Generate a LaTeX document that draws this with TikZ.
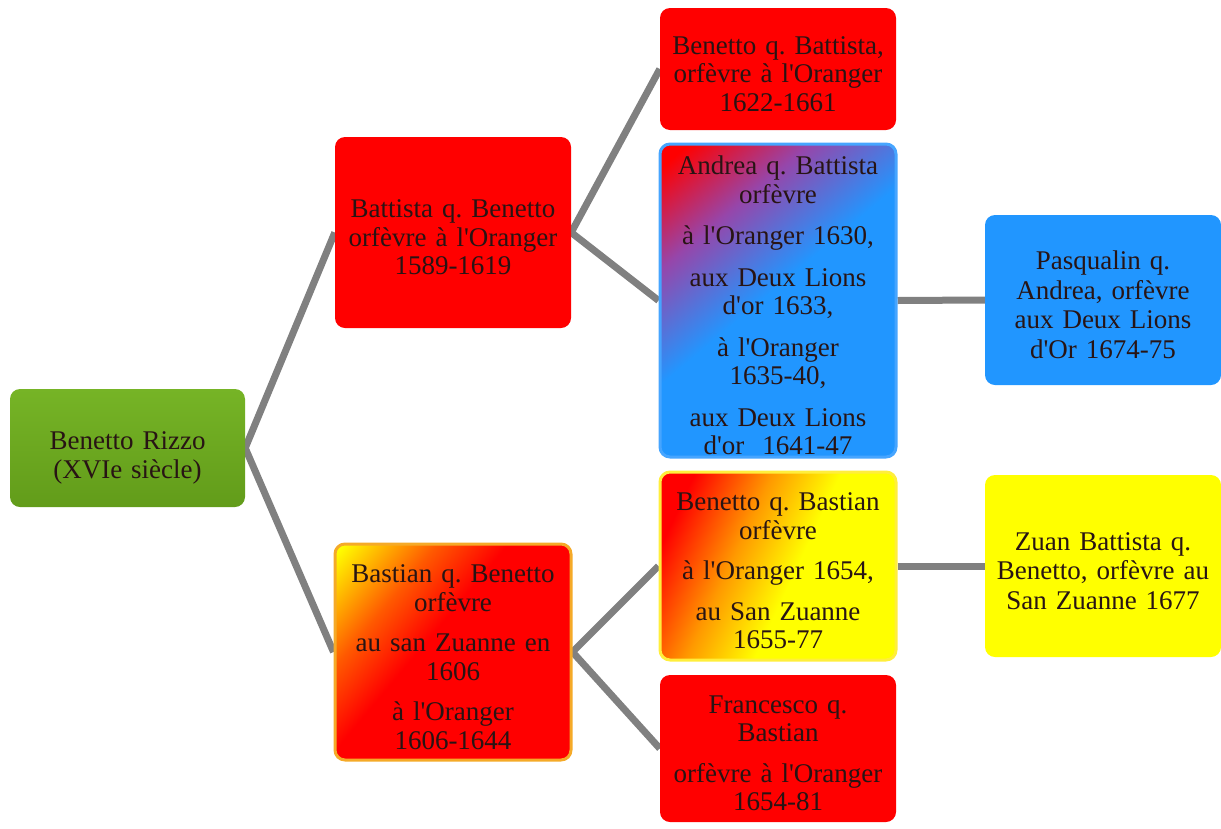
\documentclass[tikz,border=0pt]{standalone}
\usepackage{fontspec}
\setmainfont{Liberation Serif}[Ligatures=TeXOff]
\usetikzlibrary{backgrounds}
\frenchspacing
\definecolor{ablue}{RGB}{33,150,255}
\definecolor{bred}{RGB}{255,0,0}
\definecolor{byel}{RGB}{255,255,0}
\definecolor{gtop}{RGB}{118,180,38}
\definecolor{gbot}{RGB}{98,156,26}
\definecolor{lgray}{RGB}{128,128,128}
\definecolor{txt}{RGB}{40,20,20}
\definecolor{purp}{RGB}{150,70,170}
\pgfdeclareverticalshading{redblue}{100bp}{color(0bp)=(ablue); color(52bp)=(ablue); color(68bp)=(purp); color(82bp)=(bred); color(100bp)=(bred)}
\pgfdeclareverticalshading{yelred}{100bp}{color(0bp)=(bred); color(56bp)=(bred); color(68bp)=(bred!65!byel); color(84bp)=(byel); color(100bp)=(byel)}
\pgfdeclareverticalshading{redyel}{100bp}{color(0bp)=(byel); color(46bp)=(byel); color(60bp)=(bred!40!byel); color(76bp)=(bred); color(100bp)=(bred)}
\tikzset{
  box/.style={rectangle, rounded corners=10pt, align=center, text width=234pt,
    inner sep=0pt, text=txt, font=\fontsize{27}{28.5}\selectfont,
    execute at end node={\par\vspace{-10pt}}},
  link/.style={draw=lgray, line width=7pt},
}
\begin{document}
\begin{tikzpicture}[x=1pt,y=-1pt]
\useasboundingbox (0,0) rectangle (1221,828);
\node[box, minimum width=235pt, minimum height=118pt, top color=gtop, bottom color=gbot, execute at end node={\par\vspace{-10pt}}] (root) at (127.5,448) {Benetto Rizzo\\(XVIe siècle)};
\node[box, minimum width=236pt, minimum height=191pt, fill=bred] (bat) at (453,232.5) {Battista q. Benetto\\orfèvre à l'Oranger\\1589-1619};
\node[box, minimum width=236pt, minimum height=216pt, shade, shading=yelred, shading angle=50, draw={rgb,255:red,245;green,170;blue,40}, line width=3pt] (bas) at (453,652) {Bastian q. Benetto\\orfèvre\\[12pt]au san Zuanne en\\1606\\[12pt]à l'Oranger\\1606-1644};
\node[box, minimum width=236pt, minimum height=122pt, fill=bred] (bqb) at (778,69) {Benetto q. Battista,\\orfèvre à l'Oranger\\1622-1661};
\node[box, minimum width=236pt, minimum height=313pt, shade, shading=redblue, shading angle=40, draw={rgb,255:red,70;green,165;blue,255}, line width=3pt] (and) at (778,300.5) {Andrea q. Battista\\orfèvre\\[13pt]à l'Oranger 1630,\\[13pt]aux Deux Lions\\d'or 1633,\\[13pt]à l'Oranger\\1635-40,\\[13pt]aux Deux Lions\\d'or \ 1641-47};
\node[box, minimum width=236pt, minimum height=188pt, shade, shading=redyel, shading angle=65, draw={rgb,255:red,255;green,238;blue,60}, line width=3pt] (bqbas) at (778,566) {Benetto q. Bastian\\orfèvre\\[12pt]à l'Oranger 1654,\\[12pt]au San Zuanne\\1655-77};
\node[box, minimum width=236pt, minimum height=147pt, fill=bred] (fra) at (778,748.5) {Francesco q.\\Bastian\\[12pt]orfèvre à l'Oranger\\1654-81};
\node[box, minimum width=236pt, minimum height=170pt, fill=ablue, font=\fontsize{27}{29.5}\selectfont] (pas) at (1103,300) {Pasqualin q.\\Andrea, orfèvre\\aux Deux Lions\\d'Or 1674-75};
\node[box, minimum width=236pt, minimum height=182pt, fill=byel, font=\fontsize{27}{29.5}\selectfont] (zua) at (1103,566) {Zuan Battista q.\\Benetto, orfèvre au\\San Zuanne 1677};
\begin{pgfonlayer}{background}
\draw[link] (root.east) -- (bat.west);
\draw[link] (root.east) -- (bas.west);
\draw[link] (bat.east) -- (bqb.west);
\draw[link] (bat.east) -- (and.west);
\draw[link] (bas.east) -- (bqbas.west);
\draw[link] (bas.east) -- (fra.west);
\draw[link] (and.east) -- (pas.west);
\draw[link] (bqbas.east) -- (zua.west);
\end{pgfonlayer}
\end{tikzpicture}
\end{document}
